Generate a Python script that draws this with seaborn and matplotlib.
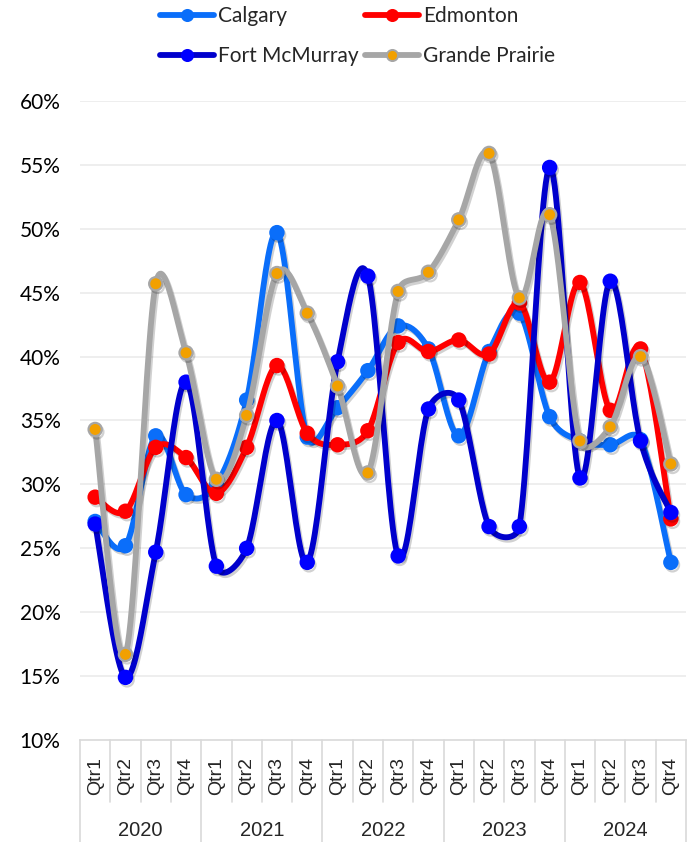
import numpy as np
import pandas as pd
import seaborn as sns
import matplotlib
matplotlib.use("Agg")
import matplotlib.pyplot as plt
import matplotlib.patheffects as pe
from matplotlib.lines import Line2D
from matplotlib.transforms import blended_transform_factory

# ---- data ---------------------------------------------------------------
years = ["2020", "2021", "2022", "2023", "2024"]
quarters = ["Qtr1", "Qtr2", "Qtr3", "Qtr4"]

calgary = [27.1, 25.2, 33.8, 29.2, 30.0, 36.6, 49.7, 33.7, 36.0, 38.9,
           42.4, 40.6, 33.8, 40.4, 43.4, 35.3, 33.4, 33.1, 33.5, 23.9]
edmonton = [29.0, 27.9, 32.9, 32.1, 29.3, 32.9, 39.3, 34.0, 33.1, 34.2,
            41.1, 40.4, 41.3, 40.2, 44.2, 38.0, 45.8, 35.8, 40.6, 27.3]
fort_mcmurray = [26.9, 14.9, 24.7, 38.0, 23.6, 25.0, 35.0, 23.9, 39.6, 46.3,
                 24.4, 35.9, 36.6, 26.7, 26.7, 54.8, 30.5, 45.9, 33.4, 27.8]
grande_prairie = [34.3, 16.7, 45.7, 40.3, 30.4, 35.4, 46.5, 43.4, 37.7, 30.9,
                  45.1, 46.6, 50.7, 55.9, 44.6, 51.1, 33.4, 34.5, 40.0, 31.6]

series_names = ["Calgary", "Edmonton", "Fort McMurray", "Grande Prairie"]
series_values = [calgary, edmonton, fort_mcmurray, grande_prairie]

line_colors = {"Calgary": "#0A6EFA", "Edmonton": "#FF0000",
               "Fort McMurray": "#0000CC", "Grande Prairie": "#A6A6A6"}
marker_colors = {"Calgary": "#0A6EFA", "Edmonton": "#FF0000",
                 "Fort McMurray": "#0000FF", "Grande Prairie": "#F2A000"}
marker_edges = {"Calgary": "#0A6EFA", "Edmonton": "#FF0000",
                "Fort McMurray": "#0000FF", "Grande Prairie": "#A6A6A6"}

# approximate on-screen scale (pixels per category step and per percent),
# so the smoothing works on visible segment lengths
X_SCALE = 30.3
Y_SCALE = 12.8


def smooth_curve(values, samples=24):
    """Cardinal Bezier smoothing (1/6 handles), with each handle clamped
    to half the length of the segment it belongs to."""
    y = np.asarray(values, dtype=float)
    n = len(y)
    P = np.column_stack([np.arange(n) * X_SCALE, y * Y_SCALE])
    pts = []
    for i in range(n - 1):
        p0 = P[max(i - 1, 0)]
        p1 = P[i]
        p2 = P[i + 1]
        p3 = P[min(i + 2, n - 1)]
        d12 = np.linalg.norm(p2 - p1)
        d02 = np.linalg.norm(p2 - p0)
        d13 = np.linalg.norm(p3 - p1)
        f0 = 1 / 6
        f3 = 1 / 6
        if d02 / 6 >= d12 / 2 and d02 > 0:
            f0 = d12 / d02 / 2
        if d13 / 6 >= d12 / 2 and d13 > 0:
            f3 = d12 / d13 / 2
        c1 = p1 + (p2 - p0) * f0
        c2 = p2 - (p3 - p1) * f3
        t = np.linspace(0, 1, samples, endpoint=(i == n - 2))[:, None]
        seg = ((1 - t) ** 3 * p1 + 3 * (1 - t) ** 2 * t * c1
               + 3 * (1 - t) * t ** 2 * c2 + t ** 3 * p2)
        pts.append(seg)
    pts = np.vstack(pts)
    return pts[:, 0] / X_SCALE, pts[:, 1] / Y_SCALE


# ---- figure -------------------------------------------------------------
sns.set_theme(style="white")
plt.rcParams["font.family"] = ["Lato", "DejaVu Sans"]

fig = plt.figure(figsize=(6.9, 8.42), dpi=100)
W, H = 690, 842
left, right, top, bottom = 80, 686, 101, 740
ax = fig.add_axes([left / W, (H - bottom) / H, (right - left) / W, (bottom - top) / H])


def shadow():
    return [pe.SimpleLineShadow(offset=(1.2, -1.8), shadow_color="#000000", alpha=0.18),
            pe.Normal()]


for name, vals in zip(series_names, series_values):
    sx, sy = smooth_curve(vals)
    df = pd.DataFrame({"x": sx, "y": sy})
    sns.lineplot(data=df, x="x", y="y", ax=ax, sort=False, estimator=None,
                 color=line_colors[name], linewidth=4.2, solid_capstyle="round",
                 path_effects=shadow(), zorder=3)
    pts = pd.DataFrame({"x": np.arange(len(vals)), "y": vals})
    ax.plot(pts["x"], pts["y"], linestyle="none", marker="o", markersize=9.5,
            markerfacecolor=marker_colors[name], markeredgecolor=marker_edges[name],
            markeredgewidth=1.6, zorder=3, path_effects=shadow())

# ---- y axis -------------------------------------------------------------
ax.set_ylim(10, 60)
ax.set_xlim(-0.5, 19.5)
yt = np.arange(10, 61, 5)
ax.set_yticks(yt)
ax.set_yticklabels([f"{v}%" for v in yt], fontsize=15, color="#000000")
ax.tick_params(axis="y", length=0, pad=14)
ax.set_xticks([])
ax.set_xlabel("")
ax.set_ylabel("")
for v in yt[1:]:
    ax.axhline(v, color="#EBEBEB", linewidth=1.2, zorder=0)
for side in ["left", "top", "right"]:
    ax.spines[side].set_visible(False)
ax.spines["bottom"].set_color("#D9D9D9")
ax.spines["bottom"].set_linewidth(1.2)

# ---- multi-level category axis -----------------------------------------
trans = blended_transform_factory(ax.transData, ax.transAxes)
axh = bottom - top
q_bot = -(802 - bottom) / axh
y_bot = -(H - bottom + 2) / axh
q_lab = -(776 - bottom) / axh
y_lab = -(831 - bottom) / axh
cat_font = ["Liberation Sans", "DejaVu Sans"]

n = len(years) * len(quarters)
for i in range(n + 1):
    xb = i - 0.5
    end = y_bot if i % 4 == 0 else q_bot
    ax.plot([xb, xb], [0, end], transform=trans, color="#D9D9D9",
            linewidth=1.2, clip_on=False)
for yi, yr in enumerate(years):
    for qi, q in enumerate(quarters):
        ax.text(yi * 4 + qi, q_lab, q, transform=trans, rotation=90,
                ha="center", va="center", fontsize=14, family=cat_font)
    ax.text(yi * 4 + 1.5, y_lab, yr, transform=trans, ha="center",
            va="center", fontsize=14.5, family=cat_font)

# ---- legend -------------------------------------------------------------
handles = []
for name in ["Calgary", "Fort McMurray", "Edmonton", "Grande Prairie"]:
    handles.append(Line2D([0], [0], color=line_colors[name], linewidth=4.2,
                          solid_capstyle="round", marker="o", markersize=8,
                          markerfacecolor=marker_colors[name],
                          markeredgecolor=marker_edges[name], markeredgewidth=1.4,
                          label=name))
fig.legend(handles=handles, loc="upper center", bbox_to_anchor=(0.518, 1.015),
           ncol=2, frameon=False, fontsize=15, handlelength=2.6,
           handletextpad=0.2, columnspacing=0.3, labelspacing=0.96)

fig.savefig("out.png", dpi=100)
